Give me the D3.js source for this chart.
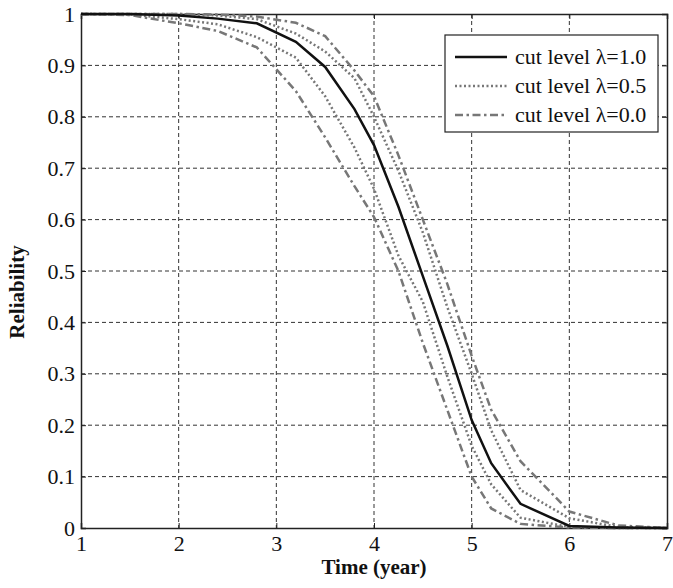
<!DOCTYPE html>
<html>
<head>
<meta charset="utf-8">
<script src="https://cdn.jsdelivr.net/npm/d3@7"></script>
<style>
body { margin: 0; background: #fff; }
text { font-family: "Liberation Serif", "Times New Roman", "DejaVu Serif", serif; fill: #111; }
</style>
</head>
<body>
<div id="chart"></div>
<script>
// data
var years = [1, 1.5, 2, 2.4, 2.8, 3.2, 3.5, 3.8, 4, 4.25, 4.5, 4.75, 5, 5.2, 5.5, 6, 6.5, 7];
var cut10 = [1, 1, 0.997, 0.991, 0.982, 0.946, 0.897, 0.815, 0.745, 0.625, 0.49, 0.355, 0.21, 0.126, 0.047, 0.004, 0.001, 0];
var cut05Upper = [1, 1, 1, 0.997, 0.99, 0.962, 0.927, 0.875, 0.8, 0.695, 0.575, 0.43, 0.3, 0.19, 0.074, 0.019, 0.002, 0];
var cut05Lower = [1, 0.999, 0.99, 0.98, 0.955, 0.915, 0.84, 0.74, 0.66, 0.53, 0.44, 0.295, 0.16, 0.085, 0.02, 0.002, 0, 0];
var cut00Upper = [1, 1, 1, 0.999, 0.995, 0.983, 0.957, 0.89, 0.84, 0.725, 0.6, 0.475, 0.335, 0.23, 0.13, 0.032, 0.005, 0];
var cut00Lower = [1, 0.998, 0.982, 0.967, 0.935, 0.85, 0.76, 0.665, 0.605, 0.5, 0.36, 0.23, 0.1, 0.038, 0.008, 0.001, 0, 0];
var xTicks = [1, 2, 3, 4, 5, 6, 7];
var yTicks = [0, 0.1, 0.2, 0.3, 0.4, 0.5, 0.6, 0.7, 0.8, 0.9, 1];
var legendLabels = ["cut level \u03bb=1.0", "cut level \u03bb=0.5", "cut level \u03bb=0.0"];

//setup
var margin = { top: 14, right: 6, bottom: 60, left: 81 },
    width = 673 - margin.left - margin.right,
    height = 588 - margin.top - margin.bottom;

var styles = [
    { color: "#111", dash: null, w: 2.5 },
    { color: "#777", dash: "2,2.5", w: 2.5 },
    { color: "#777", dash: "8,3.5,2.5,3.5", w: 2.5 }
];

var root = d3.select("#chart").append("svg")
    .attr("width", 673)
    .attr("height", 588);

var svg = root.append("g")
    .attr("transform", "translate(" + margin.left + "," + margin.top + ")");

var x = d3.scaleLinear().domain([1, 7]).range([0, width]);
var y = d3.scaleLinear().domain([0, 1]).range([height, 0]);

// grid
svg.append("g").selectAll("line").data(xTicks.slice(1, -1)).enter().append("line")
    .attr("x1", d => x(d)).attr("x2", d => x(d))
    .attr("y1", 0).attr("y2", height)
    .attr("stroke", "#333").attr("stroke-width", 1).attr("stroke-dasharray", "4,3");
svg.append("g").selectAll("line").data(yTicks.slice(1, -1)).enter().append("line")
    .attr("y1", d => y(d)).attr("y2", d => y(d))
    .attr("x1", 0).attr("x2", width)
    .attr("stroke", "#333").attr("stroke-width", 1).attr("stroke-dasharray", "4,3");

// axes
var xAxis = d3.axisBottom(x).tickValues(xTicks).tickFormat(d3.format("d")).tickSize(-5).tickPadding(7);
var yAxis = d3.axisLeft(y).tickValues(yTicks).tickFormat(d => d === 0 || d === 1 ? d : d3.format(".1f")(d)).tickSize(-5).tickPadding(6);

svg.append("g")
    .attr("transform", "translate(0," + height + ")")
    .call(xAxis);
svg.append("g")
    .call(yAxis);
svg.append("g")
    .attr("transform", "translate(" + width + ",0)")
    .call(d3.axisRight(y).tickValues(yTicks).tickSize(-5).tickFormat(""));
svg.append("g")
    .call(d3.axisTop(x).tickValues(xTicks).tickSize(-5).tickFormat(""));

svg.selectAll(".domain").attr("stroke", "#222").attr("stroke-width", 1.5);
svg.selectAll(".tick line").attr("stroke", "#222");
svg.selectAll(".tick text").attr("font-size", 22).attr("fill", "#111");

// curves
var line = d3.line()
    .x((d, i) => x(years[i]))
    .y(d => y(d));

var series = [
    { vals: cut05Upper, s: 1 },
    { vals: cut05Lower, s: 1 },
    { vals: cut00Upper, s: 2 },
    { vals: cut00Lower, s: 2 },
    { vals: cut10, s: 0 }
];

series.forEach(function (d) {
    var st = styles[d.s];
    svg.append("path")
        .attr("d", line(d.vals))
        .attr("fill", "none")
        .attr("stroke", st.color)
        .attr("stroke-width", st.w)
        .attr("stroke-dasharray", st.dash);
});

// axis titles
root.append("text")
    .attr("x", margin.left + width / 2)
    .attr("y", 573.5)
    .attr("text-anchor", "middle")
    .attr("font-size", 21)
    .attr("font-weight", "bold")
    .text("Time (year)");

root.append("text")
    .attr("transform", "translate(24,292) rotate(-90)")
    .attr("text-anchor", "middle")
    .attr("font-size", 21)
    .attr("font-weight", "bold")
    .text("Reliability");

// legend
var legend = root.append("g").attr("transform", "translate(445,35)");
legend.append("rect")
    .attr("width", 213).attr("height", 97)
    .attr("fill", "#fff").attr("stroke", "#222").attr("stroke-width", 1.2);

legendLabels.forEach(function (lab, i) {
    var st = styles[i];
    var ly = 22 + i * 29;
    legend.append("line")
        .attr("x1", 10).attr("x2", 62)
        .attr("y1", ly).attr("y2", ly)
        .attr("stroke", st.color)
        .attr("stroke-width", st.w)
        .attr("stroke-dasharray", st.dash);
    legend.append("text")
        .attr("x", 70).attr("y", ly + 7)
        .attr("font-size", 22)
        .text(lab);
});
</script>
</body>
</html>
